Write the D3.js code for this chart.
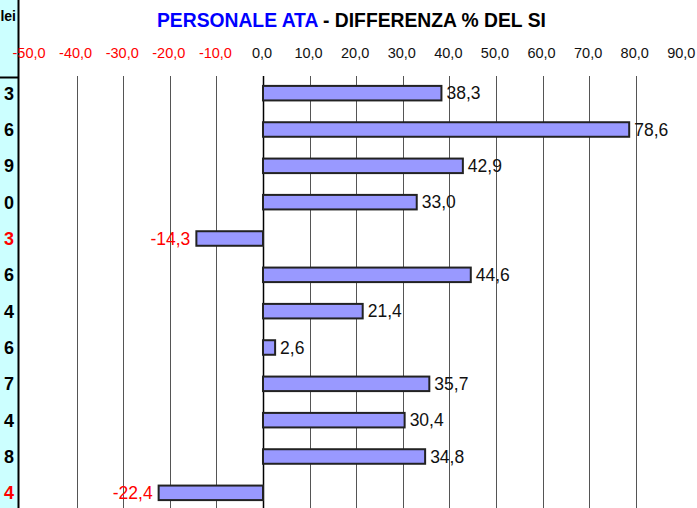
<!DOCTYPE html>
<html>
<head>
<meta charset="utf-8">
<script src="https://cdn.jsdelivr.net/npm/d3@7"></script>
<style>
  html, body { margin: 0; padding: 0; background: #fff; }
  svg { display: block; font-family: "Liberation Sans", Arial, Helvetica, sans-serif; }
</style>
</head>
<body>
<svg id="chart" width="697" height="508"></svg>
<script>
const categories = ["3", "6", "9", "0", "3", "6", "4", "6", "7", "4", "8", "4"];
const values = [38.3, 78.6, 42.9, 33.0, -14.3, 44.6, 21.4, 2.6, 35.7, 30.4, 34.8, -22.4];
const categoryColors = ["#000", "#000", "#000", "#000", "#ff0000", "#000", "#000", "#000", "#000", "#000", "#000", "#ff0000"];
const tickValues = [-50, -40, -30, -20, -10, 0, 10, 20, 30, 40, 50, 60, 70, 80, 90];
const gridValues = [-40, -30, -20, -10, 0, 10, 20, 30, 40, 50, 60, 70, 80];
const headerLabel = "lei";
const titleBlue = "PERSONALE ATA";
const titleBlack = " - DIFFERENZA % DEL SI";

const svg = d3.select("#chart");
const W = 697, H = 508;

const x = d3.scaleLinear().domain([-50, 90]).range([30.05, 682.3]);
const y = d3.scaleBand().domain(d3.range(categories.length)).range([75, 511]).paddingInner(0.6).paddingOuter(0.3);
const fmt = v => d3.format(".1f")(v).replace(".", ",").replace("\u2212", "-");

// left cyan panel
svg.append("rect").attr("x", 0).attr("y", 0).attr("width", 18).attr("height", H).attr("fill", "#ccffff");
svg.append("line").attr("x1", 18.5).attr("x2", 18.5).attr("y1", 0).attr("y2", H).attr("stroke", "#000").attr("stroke-width", 2);
svg.append("line").attr("x1", 0).attr("x2", 18).attr("y1", 77.5).attr("y2", 77.5).attr("stroke", "#000").attr("stroke-width", 2);
svg.append("text").attr("x", 16).attr("y", 21).attr("text-anchor", "end")
  .attr("font-size", 14).attr("font-weight", "bold").attr("fill", "#000").text(headerLabel);

svg.append("g").selectAll("text").data(categories).join("text")
  .attr("x", 14).attr("y", (d, i) => y(i) + y.bandwidth() / 2 + 6.5)
  .attr("text-anchor", "end").attr("font-size", 18).attr("font-weight", "bold")
  .attr("fill", (d, i) => categoryColors[i]).text(d => d);

// title
const title = svg.append("text").attr("x", 157).attr("y", 27).attr("font-size", 19.3).attr("font-weight", "bold");
title.append("tspan").attr("fill", "#0000ff").text(titleBlue);
title.append("tspan").attr("fill", "#000").text(titleBlack);

// gridlines
svg.append("g").selectAll("line").data(gridValues).join("line")
  .attr("x1", d => Math.round(x(d)) + 0.5).attr("x2", d => Math.round(x(d)) + 0.5)
  .attr("y1", 76).attr("y2", H)
  .attr("stroke", d => d === 0 ? "#000" : "#555").attr("stroke-width", d => d === 0 ? 1.5 : 1);

// tick labels
svg.append("g").selectAll("text").data(tickValues).join("text")
  .attr("x", d => x(d) - 1).attr("y", 57.5)
  .attr("text-anchor", "middle").attr("font-size", 14.5)
  .attr("fill", d => d < 0 ? "#ff0000" : "#111").text(d => fmt(d));

// bars
svg.append("g").selectAll("rect").data(values).join("rect")
  .attr("x", d => x(Math.min(0, d)))
  .attr("width", d => Math.abs(x(d) - x(0)))
  .attr("y", (d, i) => y(i))
  .attr("height", y.bandwidth())
  .attr("fill", "#9999ff").attr("stroke", "#222").attr("stroke-width", 2);

// value labels
svg.append("g").selectAll("text").data(values).join("text")
  .attr("x", d => d >= 0 ? x(d) + 5 : x(d) - 6)
  .attr("y", (d, i) => y(i) + y.bandwidth() / 2 + 6.3)
  .attr("text-anchor", d => d >= 0 ? "start" : "end")
  .attr("font-size", 17.5)
  .attr("fill", d => d < 0 ? "#ff0000" : "#111").text(d => fmt(d));
</script>
</body>
</html>
